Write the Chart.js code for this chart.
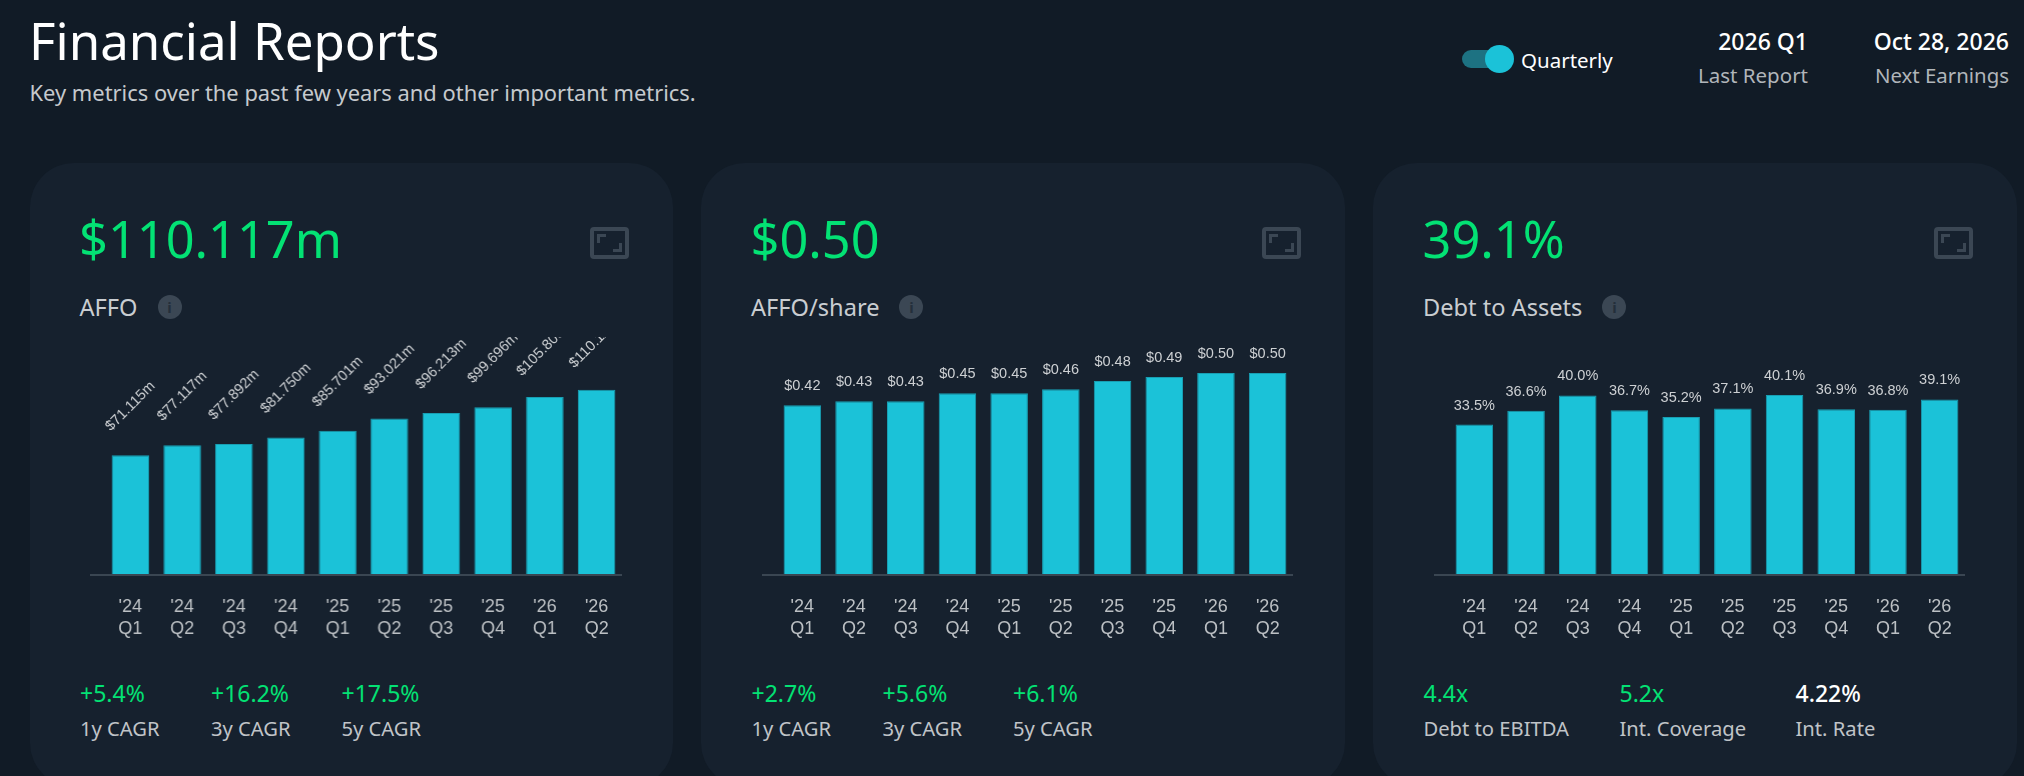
<!doctype html>
<html lang="en">
  <head>
    <meta charset="utf-8">
    <title>Financial Reports</title>
    <script src="https://cdn.jsdelivr.net/npm/chart.js@4"></script>
    <style>
      html, body { margin: 0; padding: 0; }
      body {
        width: 2024px; height: 776px; overflow: hidden; position: relative;
        background-color: #111b26; color: #fff;
        font-family: "Noto Sans", sans-serif;
      }
      .abs { position: absolute; white-space: nowrap; }
      .card {
        position: absolute; top: 163px; width: 643.5px; height: 624px;
        background-color: #16212e; border-radius: 44px;
      }
      .big { left: 49.5px; top: 41px; font-size: 50.5px; line-height: 70px; color: #03e274; }
      .name { left: 50px; top: 128px; font-size: 23.6px; line-height: 32px; color: #c9cdd1; display: flex; align-items: center; }
      .info {
        display: inline-block; width: 24px; height: 24px; border-radius: 12px; margin-left: 20px;
        background-color: #3b4754; color: #242f3b; font-size: 15px; line-height: 24px; text-align: center; font-weight: 700;
      }
      .expand {
        left: 560.5px; top: 64px; width: 31px; height: 24px;
        border: 4px solid #3b4754; border-radius: 4px;
      }
      .expand:before, .expand:after { content: ""; position: absolute; width: 6px; height: 6px; border: 0 solid #3b4754; }
      .expand:before { left: 3px; top: 3px; border-width: 3px 0 0 3px; }
      .expand:after { right: 3px; bottom: 3px; border-width: 0 3px 3px 0; }
      .chartbox { position: absolute; left: 60.5px; top: 174px; width: 531.5px; height: 303px; }
      .stat { top: 512px; font-size: 23px; line-height: 36px; color: #03e274; }
      .stat.white { color: #fff; font-weight: 500; }
      .sub { top: 548px; font-size: 20.2px; line-height: 34px; color: #c0c4c8; }
    </style>
  </head>

  <body>
    <!-- Header -->
    <div class="abs" style="left:29px;top:5px;font-size:51px;line-height:70px;">Financial Reports</div>
    <div class="abs" style="left:29.5px;top:78px;font-size:21.9px;line-height:30px;color:#c5c9cd;">Key metrics over the past few years and other important metrics.</div>

    <div class="abs" style="left:1462px;top:50px;width:40px;height:18px;border-radius:9px;background-color:#1d7282;"></div>
    <div class="abs" style="left:1485px;top:45px;width:29px;height:28px;border-radius:50%;background-color:#1bc2d8;"></div>
    <div class="abs" style="left:1521px;top:44px;font-size:20.5px;line-height:32px;">Quarterly</div>

    <div class="abs" style="right:216px;top:25px;font-size:23px;line-height:32px;font-weight:500;">2026 Q1</div>
    <div class="abs" style="right:216px;top:59px;font-size:20.5px;line-height:32px;color:#b0b5ba;">Last Report</div>
    <div class="abs" style="right:15px;top:25px;font-size:23px;line-height:32px;font-weight:500;">Oct 28, 2026</div>
    <div class="abs" style="right:15px;top:59px;font-size:20.4px;line-height:32px;color:#b0b5ba;">Next Earnings</div>

    <!-- AFFO -->
    <div class="card" style="left:29.5px;">
      <div class="abs big">$110.117m</div>
      <div class="abs expand"></div>
      <div class="abs name">AFFO<span class="info">i</span></div>
      <div class="chartbox"><canvas id="affoChart"></canvas></div>
      <div class="abs stat" style="left:50.5px;">+5.4%</div>
      <div class="abs stat" style="left:181.5px;">+16.2%</div>
      <div class="abs stat" style="left:312px;">+17.5%</div>
      <div class="abs sub" style="left:50.5px;">1y CAGR</div>
      <div class="abs sub" style="left:181.5px;">3y CAGR</div>
      <div class="abs sub" style="left:312px;">5y CAGR</div>
    </div>

    <!-- AFFO/share -->
    <div class="card" style="left:701px;">
      <div class="abs big">$0.50</div>
      <div class="abs expand"></div>
      <div class="abs name">AFFO/share<span class="info">i</span></div>
      <div class="chartbox"><canvas id="shareChart"></canvas></div>
      <div class="abs stat" style="left:50.5px;">+2.7%</div>
      <div class="abs stat" style="left:181.5px;">+5.6%</div>
      <div class="abs stat" style="left:312px;">+6.1%</div>
      <div class="abs sub" style="left:50.5px;">1y CAGR</div>
      <div class="abs sub" style="left:181.5px;">3y CAGR</div>
      <div class="abs sub" style="left:312px;">5y CAGR</div>
    </div>

    <!-- Debt to Assets -->
    <div class="card" style="left:1373px;">
      <div class="abs big">39.1%</div>
      <div class="abs expand"></div>
      <div class="abs name">Debt to Assets<span class="info">i</span></div>
      <div class="chartbox"><canvas id="debtChart"></canvas></div>
      <div class="abs stat" style="left:50.5px;">4.4x</div>
      <div class="abs stat" style="left:246.5px;">5.2x</div>
      <div class="abs stat white" style="left:422.5px;">4.22%</div>
      <div class="abs sub" style="left:50.5px;">Debt to EBITDA</div>
      <div class="abs sub" style="left:246.5px;">Int. Coverage</div>
      <div class="abs sub" style="left:422.5px;">Int. Rate</div>
    </div>

    <script>
      const years = ["'24", "'24", "'24", "'24", "'25", "'25", "'25", "'25", "'26", "'26"];
      const quarters = ["Q1", "Q2", "Q3", "Q4", "Q1", "Q2", "Q3", "Q4", "Q1", "Q2"];
      const affoValues = [71.115, 77.117, 77.892, 81.75, 85.701, 93.021, 96.213, 99.696, 105.8, 110.117];
      const shareValues = [0.42, 0.43, 0.43, 0.45, 0.45, 0.46, 0.48, 0.49, 0.50, 0.50];
      const debtValues = [33.5, 36.6, 40.0, 36.7, 35.2, 37.1, 40.1, 36.9, 36.8, 39.1];

      // no datalabels plugin here, so the value labels are drawn from the bar elements
      const valueLabels = {
        id: 'valueLabels',
        afterDatasetsDraw(chart, args, opts) {
          const ctx = chart.ctx;
          const values = chart.data.datasets[0].data;
          ctx.save();
          ctx.font = '14.5px "Liberation Sans", Arial, sans-serif';
          ctx.fillStyle = '#cdd0d3';
          ctx.textAlign = 'center';
          ctx.textBaseline = 'middle';
          chart.getDatasetMeta(0).data.forEach((bar, i) => {
            ctx.save();
            ctx.translate(bar.x, bar.y - opts.offset);
            ctx.rotate(opts.rotation);
            ctx.fillText(opts.format(values[i]), 0, 0);
            ctx.restore();
          });
          ctx.restore();
        }
      };

      function showChart(id, values, yMax, format, rotation, offset) {
        const config = {
          type: 'bar',
          data: {
            labels: years.map((y, i) => [y, quarters[i]]),
            datasets: [{
              data: values,
              backgroundColor: '#1bc2d8',
              borderColor: '#189fb3',
              borderWidth: 1,
              categoryPercentage: 1,
              barPercentage: 0.726
            }]
          },
          options: {
            responsive: true,
            maintainAspectRatio: false,
            animation: false,
            layout: { padding: 0 },
            plugins: {
              legend: { display: false },
              tooltip: { enabled: false },
              valueLabels: { format: format, rotation: rotation, offset: offset }
            },
            scales: {
              x: {
                // gap under the axis comes from tickLength, ticks.padding also eats plot width
                grid: { drawOnChartArea: false, tickLength: 21, tickColor: 'transparent' },
                border: { display: false },
                ticks: {
                  color: '#bcc0c4',
                  padding: 0,
                  maxRotation: 0,
                  autoSkip: false,
                  font: { family: '"Liberation Sans", Arial, sans-serif', size: 18, lineHeight: 1.22 }
                }
              },
              y: {
                min: 0,
                max: yMax,
                border: { display: false },
                ticks: { display: false, stepSize: yMax },
                grid: {
                  tickLength: 14.5,
                  lineWidth: 2,
                  color: (c) => (c.tick.value === 0 ? '#3a4652' : 'transparent')
                }
              }
            }
          },
          plugins: [valueLabels]
        };
        return new Chart(document.getElementById(id), config);
      }

      showChart('affoChart', affoValues, 141.4, (v) => '$' + v.toFixed(3) + 'm', -Math.PI / 4, 49);
      showChart('shareChart', shareValues, 0.5891, (v) => '$' + v.toFixed(2), 0, 19);
      showChart('debtChart', debtValues, 53, (v) => v.toFixed(1) + '%', 0, 19);
    </script>
  </body>
</html>
